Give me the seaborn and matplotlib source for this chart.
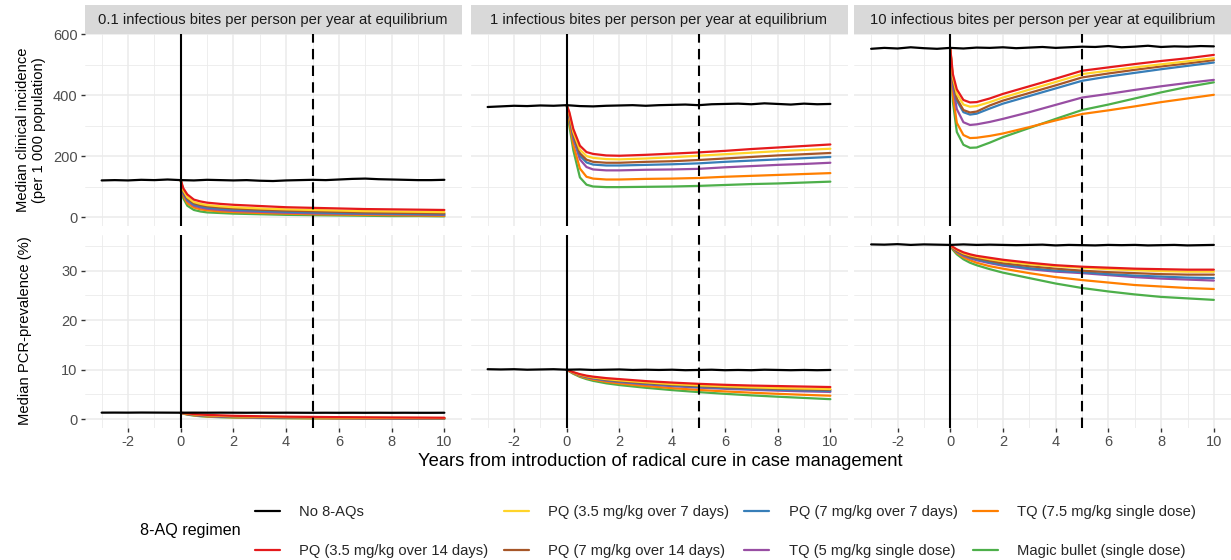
import numpy as np
import pandas as pd
import matplotlib
matplotlib.use("Agg")
import matplotlib.pyplot as plt
import seaborn as sns
from matplotlib.lines import Line2D

# ---------------- data ----------------
REGIMENS = ["No 8-AQs", "PQ (3.5 mg/kg over 14 days)", "PQ (3.5 mg/kg over 7 days)",
            "PQ (7 mg/kg over 14 days)", "PQ (7 mg/kg over 7 days)", "TQ (5 mg/kg single dose)",
            "TQ (7.5 mg/kg single dose)", "Magic bullet (single dose)"]
COLORS = ["#000000", "#E41A1C", "#FFD42A", "#A65628", "#377EB8", "#984EA3", "#FF7F00", "#4DAF4A"]
PANEL_TITLES = ["0.1 infectious bites per person per year at equilibrium",
                "1 infectious bites per person per year at equilibrium",
                "10 infectious bites per person per year at equilibrium"]
X_TICKS = [-2, 0, 2, 4, 6, 8, 10]
INC_TICKS = [0, 200, 400, 600]
PREV_TICKS = [0, 10, 20, 30]

T_BLACK = [-3, -2.5, -2, -1.5, -1, -0.5, 0, 0.5, 1, 1.5, 2, 2.5, 3, 3.5, 4, 4.5, 5,
           5.5, 6, 6.5, 7, 7.5, 8, 8.5, 9, 9.5, 10]
T_COL = [0, 0.1, 0.25, 0.5, 0.75, 1, 1.5, 2, 3, 4, 5, 6, 7, 8, 9, 10]

# clinical incidence, EIR 0.1
INC_01_BLACK = [121, 122, 121, 123, 122, 124, 122, 121, 123, 122, 121, 122, 120, 119, 121, 122,
                123, 122, 124, 126, 127, 125, 124, 123, 122, 122, 123]
INC_01 = [
    [122, 95, 75, 58, 52, 48, 44, 41, 37, 33, 31, 29, 27, 26, 25, 24],
    [122, 88, 66, 50, 44, 40, 36, 33, 29, 26, 24, 22, 20, 19, 18, 17],
    [122, 84, 62, 46, 40, 36, 32, 29, 25, 22, 20, 18, 16, 15, 14, 13],
    [122, 80, 58, 42, 36, 32, 28, 25, 21, 18, 16, 14, 13, 12, 11, 10],
    [122, 76, 54, 38, 32, 28, 24, 21, 18, 15, 13, 12, 11, 10, 9, 8],
    [122, 70, 46, 32, 26, 23, 19, 17, 14, 12, 10, 9, 8, 7, 6, 5],
    [122, 62, 38, 24, 19, 16, 14, 12, 10, 8, 7, 6, 5, 4, 4, 3],
]
# clinical incidence, EIR 1
INC_1_BLACK = [362, 364, 366, 365, 367, 366, 368, 365, 364, 366, 367, 368, 366, 368, 369, 370,
               368, 371, 372, 373, 371, 374, 372, 370, 373, 371, 372]
INC_1 = [
    [368, 345, 290, 235, 214, 208, 203, 202, 205, 209, 213, 218, 224, 229, 234, 239],
    [368, 340, 280, 222, 201, 195, 191, 190, 193, 197, 202, 207, 212, 217, 221, 225],
    [368, 335, 272, 210, 189, 182, 179, 179, 182, 184, 188, 193, 198, 203, 207, 211],
    [368, 332, 266, 202, 180, 173, 170, 170, 172, 174, 177, 182, 186, 190, 194, 198],
    [368, 328, 258, 190, 165, 157, 154, 154, 156, 157, 159, 164, 168, 172, 175, 179],
    [368, 315, 238, 160, 133, 127, 124, 124, 126, 127, 129, 133, 136, 139, 142, 145],
    [368, 300, 220, 131, 107, 101, 99, 99, 100, 101, 103, 106, 109, 111, 114, 117],
]
# clinical incidence, EIR 10
INC_10_BLACK = [553, 556, 554, 558, 555, 553, 556, 554, 557, 556, 558, 555, 557, 559, 556, 558,
                560, 559, 562, 558, 560, 563, 559, 561, 560, 562, 561]
INC_10 = [
    [556, 470, 420, 385, 377, 378, 390, 405, 430, 455, 481, 492, 503, 513, 522, 533],
    [556, 460, 405, 370, 363, 365, 378, 393, 419, 444, 470, 481, 492, 502, 512, 522],
    [556, 450, 390, 352, 344, 347, 367, 383, 408, 433, 459, 472, 484, 495, 505, 516],
    [556, 445, 383, 345, 337, 340, 357, 373, 398, 423, 448, 462, 474, 486, 497, 508],
    [556, 430, 355, 312, 303, 305, 313, 323, 345, 369, 393, 405, 418, 430, 441, 451],
    [556, 400, 310, 270, 260, 261, 267, 275, 296, 318, 339, 351, 364, 378, 390, 402],
    [556, 380, 280, 238, 228, 229, 245, 263, 293, 323, 352, 370, 390, 410, 428, 443],
]
# PCR prevalence, EIR 0.1
PREV_01_BLACK = [1.33, 1.34, 1.33, 1.35, 1.34, 1.33, 1.32, 1.33, 1.32, 1.33, 1.32, 1.31, 1.32,
                 1.31, 1.32, 1.31, 1.30, 1.31, 1.30, 1.31, 1.30, 1.31, 1.30, 1.31, 1.30, 1.30, 1.31]
PREV_01 = [
    [1.3, 1.25, 1.18, 1.05, 0.95, 0.88, 0.78, 0.7, 0.6, 0.52, 0.47, 0.42, 0.38, 0.35, 0.33, 0.3],
    [1.3, 1.22, 1.12, 0.98, 0.87, 0.79, 0.68, 0.6, 0.5, 0.43, 0.38, 0.34, 0.3, 0.28, 0.26, 0.24],
    [1.3, 1.2, 1.08, 0.93, 0.82, 0.74, 0.63, 0.55, 0.45, 0.38, 0.33, 0.29, 0.26, 0.24, 0.22, 0.2],
    [1.3, 1.19, 1.06, 0.9, 0.78, 0.7, 0.59, 0.51, 0.41, 0.34, 0.29, 0.26, 0.23, 0.21, 0.19, 0.17],
    [1.3, 1.18, 1.03, 0.86, 0.74, 0.65, 0.54, 0.46, 0.37, 0.3, 0.26, 0.22, 0.2, 0.18, 0.16, 0.15],
    [1.3, 1.15, 0.98, 0.8, 0.67, 0.58, 0.47, 0.4, 0.31, 0.25, 0.21, 0.18, 0.16, 0.14, 0.13, 0.12],
    [1.3, 1.12, 0.93, 0.73, 0.6, 0.51, 0.4, 0.33, 0.25, 0.2, 0.16, 0.14, 0.12, 0.11, 0.1, 0.09],
]
# PCR prevalence, EIR 1
PREV_1_BLACK = [10.1, 10.05, 10.1, 10.0, 10.05, 10.1, 10.0, 10.05, 9.95, 10.0, 10.05, 9.95, 10.0,
                9.95, 10.0, 9.9, 9.95, 10.0, 9.9, 9.95, 9.9, 10.0, 9.95, 9.9, 9.95, 9.9, 9.95]
PREV_1 = [
    [10.0, 9.8, 9.5, 9.1, 8.8, 8.6, 8.3, 8.1, 7.7, 7.4, 7.15, 6.95, 6.8, 6.7, 6.6, 6.5],
    [10.0, 9.78, 9.45, 9.0, 8.7, 8.45, 8.1, 7.85, 7.45, 7.1, 6.85, 6.65, 6.45, 6.3, 6.2, 6.1],
    [10.0, 9.77, 9.42, 8.95, 8.62, 8.37, 8.0, 7.75, 7.32, 6.97, 6.7, 6.48, 6.3, 6.15, 6.05, 5.95],
    [10.0, 9.76, 9.4, 8.9, 8.55, 8.28, 7.9, 7.62, 7.18, 6.82, 6.53, 6.3, 6.1, 5.95, 5.83, 5.72],
    [10.0, 9.75, 9.37, 8.85, 8.48, 8.2, 7.8, 7.5, 7.05, 6.68, 6.38, 6.14, 5.94, 5.77, 5.63, 5.52],
    [10.0, 9.7, 9.27, 8.7, 8.3, 8.0, 7.55, 7.22, 6.7, 6.27, 5.92, 5.62, 5.36, 5.13, 4.93, 4.75],
    [10.0, 9.65, 9.18, 8.55, 8.1, 7.75, 7.25, 6.9, 6.35, 5.88, 5.48, 5.13, 4.82, 4.55, 4.3, 4.05],
]
# PCR prevalence, EIR 10
PREV_10_BLACK = [35.3, 35.25, 35.35, 35.2, 35.3, 35.25, 35.2, 35.3, 35.2, 35.25, 35.2, 35.15, 35.2,
                 35.25, 35.1, 35.2, 35.15, 35.1, 35.2, 35.15, 35.2, 35.1, 35.15, 35.2, 35.1, 35.15, 35.2]
PREV_10 = [
    [35.2, 34.8, 34.3, 33.7, 33.3, 33.0, 32.6, 32.2, 31.6, 31.1, 30.8, 30.6, 30.4, 30.3, 30.2, 30.2],
    [35.2, 34.7, 34.2, 33.5, 33.1, 32.8, 32.3, 31.9, 31.3, 30.9, 30.6, 30.3, 30.1, 29.9, 29.8, 29.8],
    [35.2, 34.6, 34.0, 33.3, 32.8, 32.5, 32.0, 31.5, 30.9, 30.4, 30.0, 29.7, 29.5, 29.3, 29.2, 29.2],
    [35.2, 34.6, 33.9, 33.2, 32.7, 32.3, 31.7, 31.2, 30.5, 30.0, 29.7, 29.3, 29.0, 28.8, 28.6, 28.5],
    [35.2, 34.5, 33.8, 33.0, 32.5, 32.1, 31.5, 31.0, 30.3, 29.8, 29.5, 29.1, 28.7, 28.4, 28.2, 28.0],
    [35.2, 34.4, 33.6, 32.7, 32.1, 31.6, 30.9, 30.4, 29.5, 28.7, 28.1, 27.6, 27.1, 26.8, 26.5, 26.3],
    [35.2, 34.2, 33.3, 32.3, 31.6, 31.1, 30.3, 29.6, 28.5, 27.4, 26.5, 25.8, 25.2, 24.7, 24.4, 24.1],
]

PANELS = [
    [(INC_01_BLACK, INC_01), (INC_1_BLACK, INC_1), (INC_10_BLACK, INC_10)],
    [(PREV_01_BLACK, PREV_01), (PREV_1_BLACK, PREV_1), (PREV_10_BLACK, PREV_10)],
]

# ---------------- style ----------------
sns.set_theme(style="white")
plt.rcParams['font.family'] = ['Liberation Sans', 'DejaVu Sans']
plt.rcParams['axes.unicode_minus'] = False

W, H = 1231, 560
fig = plt.figure(figsize=(W / 100, H / 100), dpi=100)
fig.patch.set_facecolor("white")


def rect(l, t, w, h):
    return [l / W, 1 - (t + h) / H, w / W, h / H]


PANEL_L = [84.5, 470.5, 854]
PANEL_W = 377
ROW_T = [34.3, 235]
ROW_H = [191.7, 193]
YLIMS = [(-28.6, 600.6), (-1.77, 37.2)]
YTICKS = [INC_TICKS, PREV_TICKS]
YMINOR = [[100, 300, 500], [5, 15, 25, 35]]
XMINOR = [-3, -1, 1, 3, 5, 7, 9]
GRID = "#EBEBEB"
palette = dict(zip(REGIMENS, COLORS))

for r in range(2):
    for c in range(3):
        ax = fig.add_axes(rect(PANEL_L[c], ROW_T[r], PANEL_W, ROW_H[r]))
        ax.set_facecolor("white")
        for s in ax.spines.values():
            s.set_visible(False)
        black, cols = PANELS[r][c]
        rows = []
        for name, vals in zip(REGIMENS[1:], cols):
            for t, v in zip(T_COL, vals):
                rows.append((name, t, v))
        dfc = pd.DataFrame(rows, columns=["regimen", "year", "value"])
        dfb = pd.DataFrame({"regimen": REGIMENS[0], "year": T_BLACK, "value": black})
        sns.lineplot(data=dfc, x="year", y="value", hue="regimen",
                     hue_order=REGIMENS[1:][::-1], palette=palette, estimator=None,
                     sort=False, linewidth=1.6, legend=False, ax=ax)
        sns.lineplot(data=dfb, x="year", y="value", color="black", estimator=None,
                     sort=False, linewidth=1.6, legend=False, ax=ax)
        ax.axvline(0, color="black", lw=1.5, zorder=5)
        ax.axvline(5, color="black", lw=1.5, ls=(0, (5, 3)), zorder=5)
        ax.set_xlim(-3.65, 10.65)
        ax.set_ylim(*YLIMS[r])
        ax.set_xticks(X_TICKS)
        ax.set_xticks(XMINOR, minor=True)
        ax.set_yticks(YTICKS[r])
        ax.set_yticks(YMINOR[r], minor=True)
        ax.grid(True, which="major", color=GRID, lw=1.1, zorder=0)
        ax.grid(True, which="minor", color=GRID, lw=0.6, zorder=0)
        ax.set_axisbelow(True)
        ax.set_xlabel("")
        ax.set_ylabel("")
        ax.tick_params(which="minor", length=0)
        ax.tick_params(which="major", length=3, width=1.0, color="#333333",
                       labelcolor="#4D4D4D", labelsize=10.5, pad=2)
        if c != 0:
            ax.tick_params(axis="y", length=0, labelleft=False)
        else:
            ax.tick_params(axis="y", left=True)
        if r != 1:
            ax.tick_params(axis="x", length=0, labelbottom=False)
        else:
            ax.tick_params(axis="x", bottom=True)
        if r == 0:
            sax = fig.add_axes(rect(PANEL_L[c], 5, PANEL_W, 29.3))
            sax.set_facecolor("#D9D9D9")
            sax.set_xticks([])
            sax.set_yticks([])
            for s in sax.spines.values():
                s.set_visible(False)
            sax.text(0.5, 0.5, PANEL_TITLES[c], ha="center", va="center",
                     fontsize=10.6, color="#1A1A1A", transform=sax.transAxes)

fig.text(31 / W, 1 - 130 / H, "Median clinical incidence\n(per 1 000 population)",
         rotation=90, ha="center", va="center", fontsize=10.6, color="black",
         linespacing=1.2)
fig.text(25 / W, 1 - 331 / H, "Median PCR-prevalence (%)", rotation=90,
         ha="center", va="center", fontsize=10.6, color="black")
fig.text(660 / W, 1 - 461 / H, "Years from introduction of radical cure in case management",
         ha="center", va="center", fontsize=13.2, color="black")

handles = [Line2D([0], [0], color=col, lw=1.6) for col in COLORS]
fig.legend(handles, REGIMENS, ncol=4, loc="center left",
           bbox_to_anchor=(255 / W, 1 - 531.5 / H), frameon=False, fontsize=10.6,
           handlelength=1.7, handletextpad=1.3, columnspacing=1.05, labelspacing=1.72,
           borderpad=0, borderaxespad=0)
fig.text(140 / W, 1 - 531 / H, "8-AQ regimen", ha="left", va="center", fontsize=11.6,
         color="black")

fig.savefig("out.png", dpi=100, facecolor="white")
